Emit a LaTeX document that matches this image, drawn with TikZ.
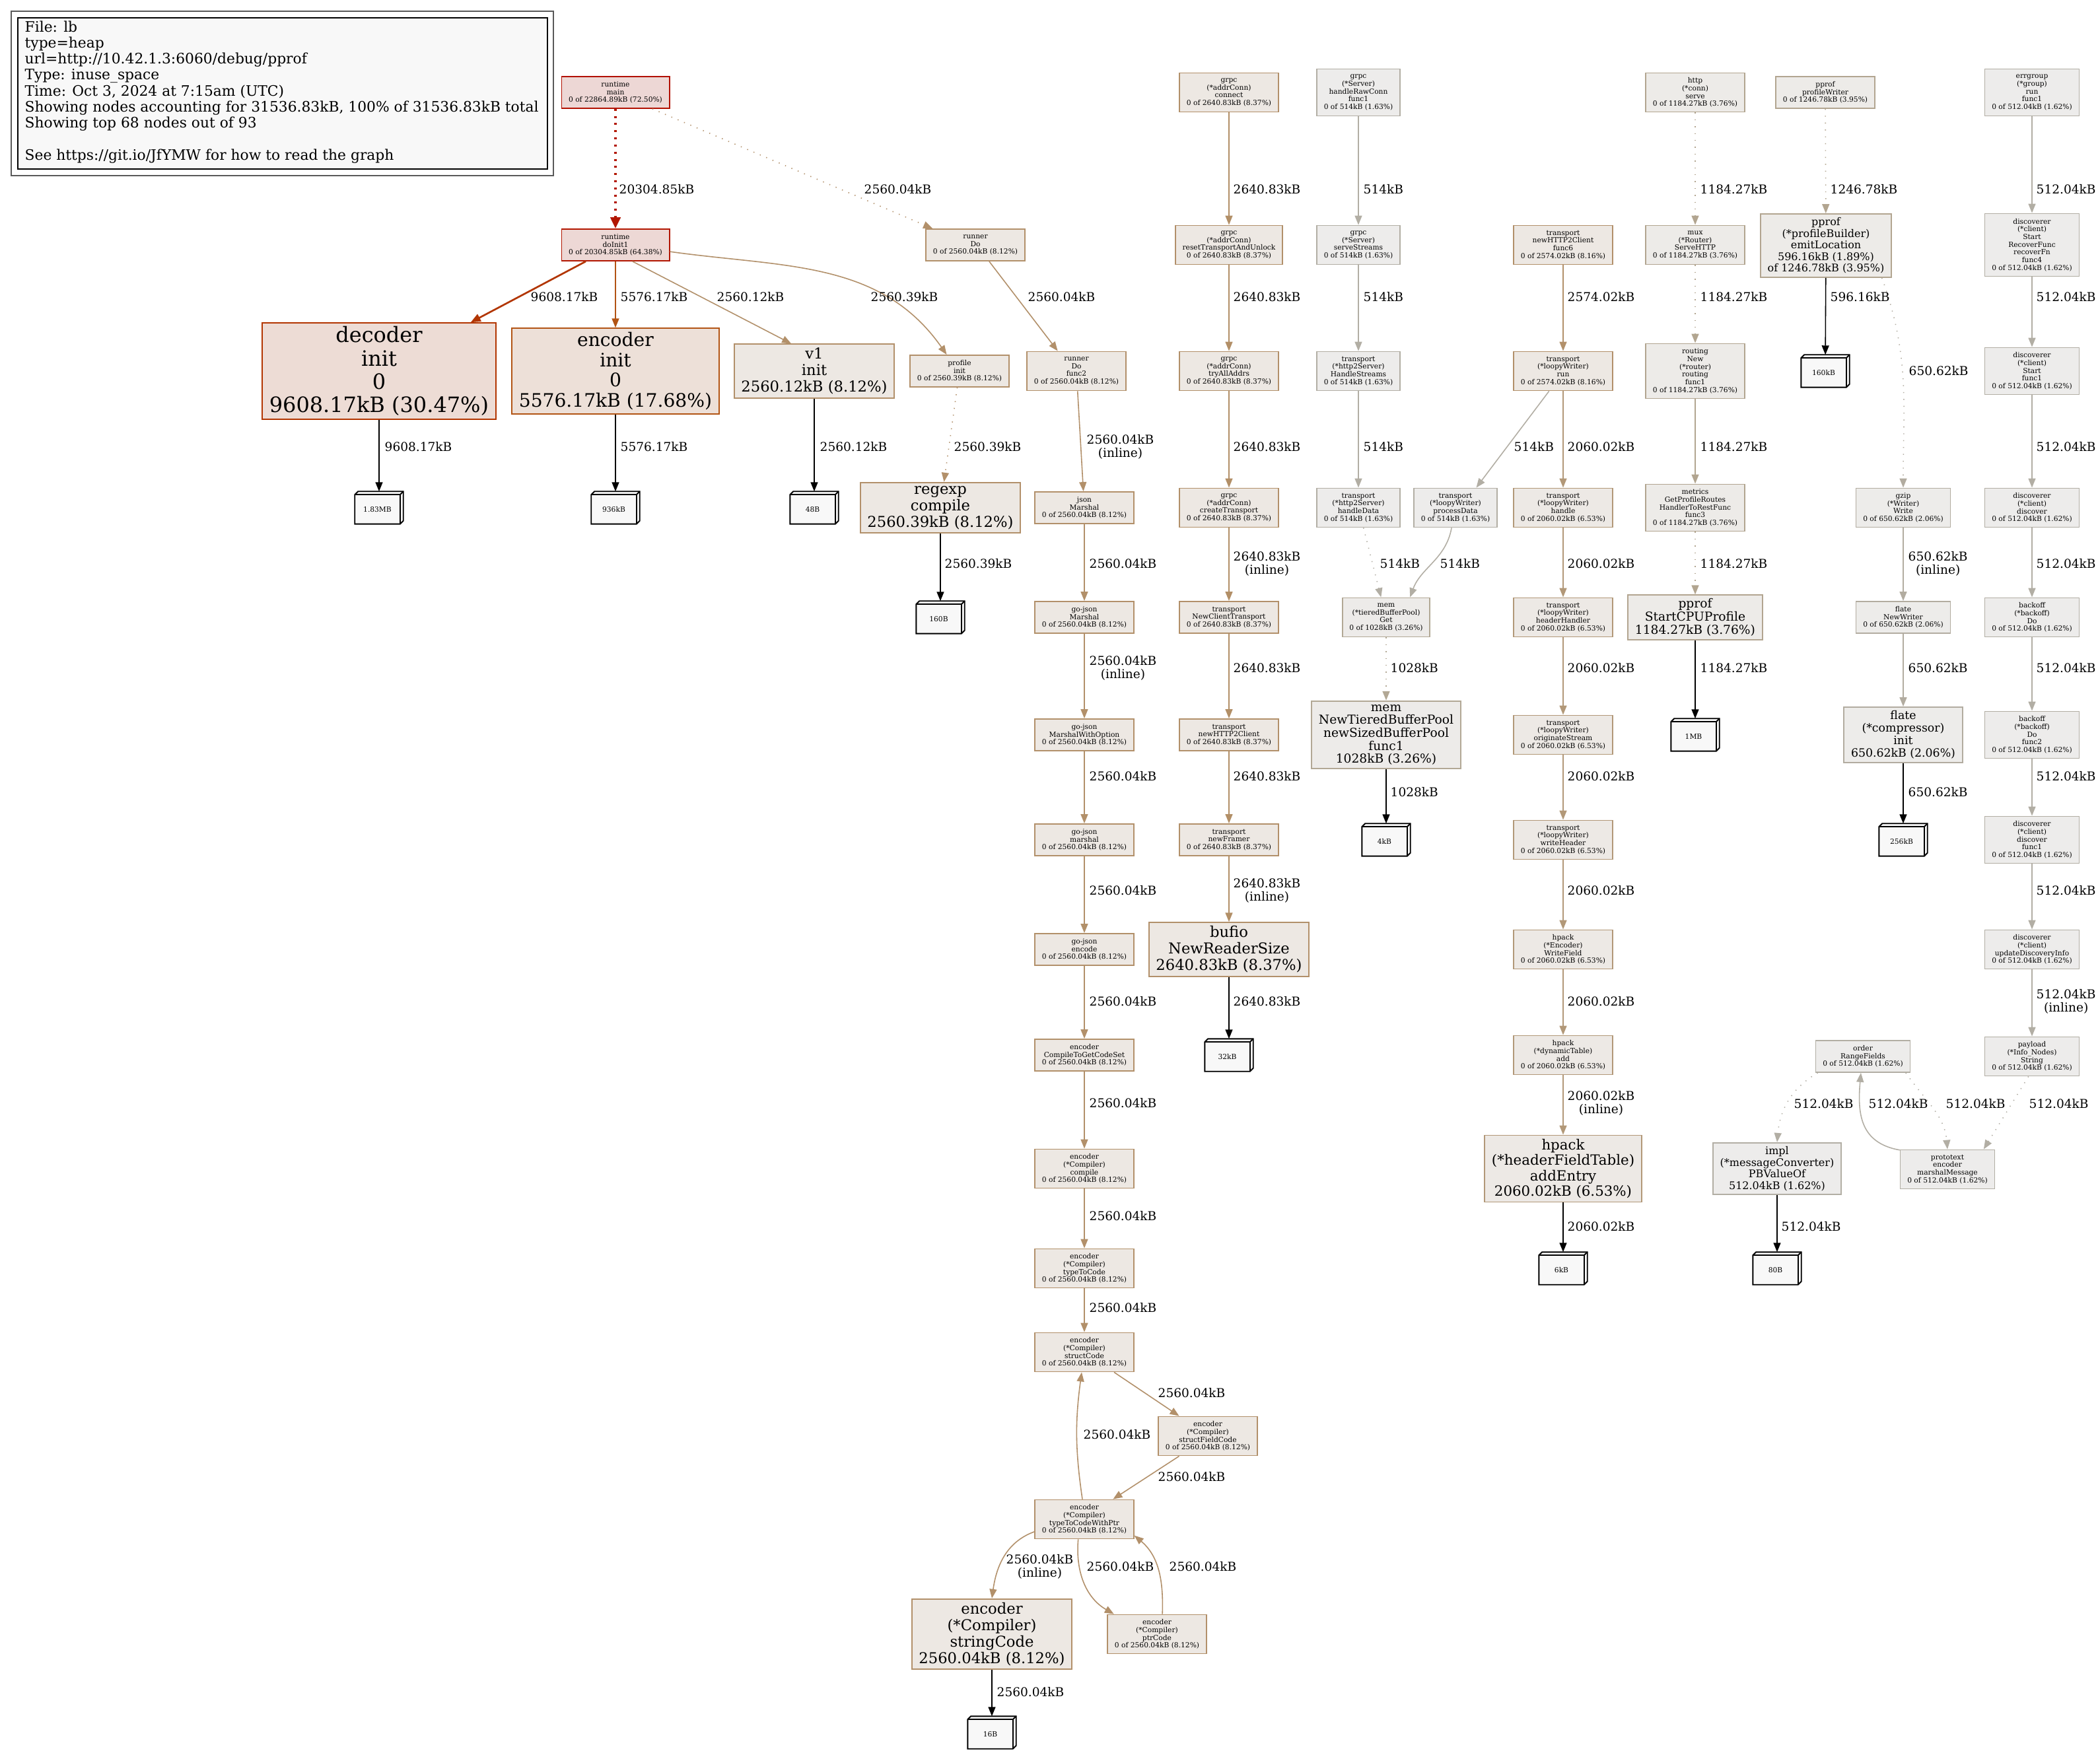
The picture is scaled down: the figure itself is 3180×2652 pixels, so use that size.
\documentclass[tikz,border=0pt]{standalone}
\usepackage{fontspec}
\setmainfont{DejaVu Serif}
\usetikzlibrary{arrows.meta,calc}
\definecolor{fRa}{HTML}{EDD7D5}\definecolor{dRa}{HTML}{B21000}
\definecolor{fRb}{HTML}{EDD8D5}\definecolor{dRb}{HTML}{B21600}
\definecolor{fDe}{HTML}{EDDCD5}\definecolor{dDe}{HTML}{B23500}
\definecolor{fEn}{HTML}{EDE0D8}\definecolor{dEn}{HTML}{B25414}
\definecolor{fT}{HTML}{EDE8E3}\definecolor{dT}{HTML}{B2906A}
\definecolor{dTg}{HTML}{B28F67}
\definecolor{fH}{HTML}{EDE9E5}\definecolor{dH}{HTML}{B29878}
\definecolor{fP}{HTML}{EDEBE8}\definecolor{dP}{HTML}{B2A590}
\definecolor{fM}{HTML}{EDEBE9}\definecolor{dM}{HTML}{B2A895}
\definecolor{fF}{HTML}{EDECEA}\definecolor{dF}{HTML}{B2ACA0}
\definecolor{fG}{HTML}{EDECEB}\definecolor{dG}{HTML}{B2AEA4}
\definecolor{cubef}{HTML}{F8F8F8}
\definecolor{legfill}{HTML}{F8F8F8}
\newcommand\pftiny{\fontsize{3.04pt}{3.33pt}\selectfont}
\newcommand\pflbl{\fontsize{5.28pt}{5.9pt}\selectfont}
\newcommand\pfleg{\fontsize{6.2pt}{6.89pt}\selectfont}
\newcommand\pfA{\fontsize{9.1pt}{10pt}\selectfont}
\newcommand\pfB{\fontsize{8pt}{8.8pt}\selectfont}
\newcommand\pfC{\fontsize{6.45pt}{7.1pt}\selectfont}
\newcommand\pfD{\fontsize{6.07pt}{6.68pt}\selectfont}
\newcommand\pfE{\fontsize{5.31pt}{5.6pt}\selectfont}
\newcommand\pfF{\fontsize{4.93pt}{5.42pt}\selectfont}
\newcommand\pfG{\fontsize{4.55pt}{5.0pt}\selectfont}
\tikzset{
  nd/.style={draw, rectangle, align=center, inner xsep=0.107cm, inner ysep=0.055cm, line width=0.5pt},
  tn/.style={nd, font=\pftiny},
  ln3/.style={minimum height=0.48cm},
  ln4/.style={minimum height=0.59cm},
  ln5/.style={minimum height=0.71cm},
  ln6/.style={minimum height=0.83cm},
  ln7/.style={minimum height=0.95cm},
  sRa/.style={fill=fRa, draw=dRa},
  sRb/.style={fill=fRb, draw=dRb},
  sDe/.style={fill=fDe, draw=dDe},
  sEn/.style={fill=fEn, draw=dEn},
  sT8/.style={fill=fT, draw=dT},
  sH/.style={fill=fH, draw=dH},
  sP/.style={fill=fP, draw=dP},
  sM/.style={fill=fM, draw=dM},
  sF/.style={fill=fF, draw=dF},
  sG/.style={fill=fG, draw=dG},
  cubeb/.style={rectangle, draw=none, minimum width=0.72cm, minimum height=0.48cm, inner sep=0pt},
  cubel/.style={draw=black, line width=0.55pt, line join=miter},
  ar/.style={-{Triangle[length=0.14cm,width=0.11cm]}, line width=0.45pt},
  arb/.style={ar, black},
  dts/.style={dash pattern=on 0.014cm off 0.09cm},
  thickdot/.style={line width=1.4pt, dash pattern=on 0.03cm off 0.078cm},
  lbl/.style={font=\pflbl, anchor=west, inner sep=0pt, align=center},
}
\newcommand\pcube[4]{%
  \node[cubeb] (#1) at (#2,#3) {};
  \filldraw[cubel, fill=cubef] (#1.south west) -- ($(#1.north west)+(0,5)$) -- ($(#1.north west)+(5,0)$) -- (#1.north east) -- ($(#1.south east)+(0,-5)$) -- ($(#1.south east)+(-5,0)$) -- cycle;
  \draw[cubel] ($(#1.north west)+(0,5)$) -- ($(#1.north east)+(-5,5)$) -- ($(#1.south east)+(-5,0)$);
  \draw[cubel] ($(#1.north east)+(-5,5)$) -- (#1.north east);
  \node[font=\pftiny, inner sep=0pt] (#1t) at ($(#1.center)+(-2.5,2.5)$) {#4};
}
\begin{document}
\begin{tikzpicture}[x=0.01cm,y=-0.01cm]
\useasboundingbox (0,0) rectangle (3180,2652);
\fill[white] (0,0) rectangle (3180,2652);

% legend
\node[draw=black!65, line width=0.5pt, fill=white, minimum width=8.21cm, minimum height=2.49cm, anchor=north west, inner sep=0pt] (legout) at (16,16) {};
\node[draw=black, line width=0.5pt, fill=legfill, minimum width=8.02cm, minimum height=2.29cm, anchor=north west, inner sep=0pt] (legin) at (26,26) {};
\node[anchor=north west, inner sep=0pt, align=left, font=\pfleg] (legtxt) at (37,31) {File: lb\\type=heap\\url=http://10.42.1.3:6060/debug/pprof\\Type: inuse\_space\\Time: Oct 3, 2024 at 7:15am (UTC)\\Showing nodes accounting for 31536.83kB, 100\% of 31536.83kB total\\Showing top 68 nodes out of 93\\[6.89pt]See https://git.io/JfYMW for how to read the graph};

% ---- rank 0
\node[tn,ln3,sRa] (main) at (932,140) {runtime\\main\\0 of 22864.89kB (72.50\%)};
\node[tn,ln4,sT8] (gconn) at (1861,140) {grpc\\(*addrConn)\\connect\\0 of 2640.83kB (8.37\%)};
\node[tn,ln5,sG] (hrc) at (2057,140) {grpc\\(*Server)\\handleRawConn\\func1\\0 of 514kB (1.63\%)};
\node[tn,ln4,sP] (hserve) at (2567,140) {http\\(*conn)\\serve\\0 of 1184.27kB (3.76\%)};
\node[tn,ln3,sP] (pwriter) at (2764,140) {pprof\\profileWriter\\0 of 1246.78kB (3.95\%)};
\node[tn,ln5,sG] (egrun) at (3077,140) {errgroup\\(*group)\\run\\func1\\0 of 512.04kB (1.62\%)};

% ---- rank 1
\node[tn,ln3,sRb] (doinit) at (932,371) {runtime\\doInit1\\0 of 20304.85kB (64.38\%)};
\node[tn,ln3,sT8] (runnerdo) at (1477,371) {runner\\Do\\0 of 2560.04kB (8.12\%)};
\node[tn,ln4,sT8] (greset) at (1861,371) {grpc\\(*addrConn)\\resetTransportAndUnlock\\0 of 2640.83kB (8.37\%)};
\node[tn,ln4,sG] (sstreams) at (2057,371) {grpc\\(*Server)\\serveStreams\\0 of 514kB (1.63\%)};
\node[tn,ln4,sT8] (nhcf6) at (2367,371) {transport\\newHTTP2Client\\func6\\0 of 2574.02kB (8.16\%)};
\node[tn,ln4,sP] (mux) at (2567,371) {mux\\(*Router)\\ServeHTTP\\0 of 1184.27kB (3.76\%)};
\node[nd,sP,font=\pfG] (emitloc) at (2765,372) {pprof\\(*profileBuilder)\\emitLocation\\596.16kB (1.89\%)\\of 1246.78kB (3.95\%)};
\node[tn,ln7,sG] (recfn) at (3077,371) {discoverer\\(*client)\\Start\\RecoverFunc\\recoverFn\\func4\\0 of 512.04kB (1.62\%)};

% ---- rank 2
\node[nd,sDe,font=\pfA] (decoder) at (574,562) {decoder\\init\\0\\9608.17kB (30.47\%)};
\node[nd,sEn,font=\pfB] (encinit) at (932,562) {encoder\\init\\0\\5576.17kB (17.68\%)};
\node[nd,sT8,font=\pfC] (v1) at (1233,562) {v1\\init\\2560.12kB (8.12\%)};
\node[tn,ln3,sT8] (profinit) at (1453,562) {profile\\init\\0 of 2560.39kB (8.12\%)};
\node[tn,ln4,sT8] (func2) at (1630,562) {runner\\Do\\func2\\0 of 2560.04kB (8.12\%)};
\node[tn,ln4,sT8] (tryall) at (1861,562) {grpc\\(*addrConn)\\tryAllAddrs\\0 of 2640.83kB (8.37\%)};
\node[tn,ln4,sG] (hstreams) at (2057,562) {transport\\(*http2Server)\\HandleStreams\\0 of 514kB (1.63\%)};
\node[tn,ln4,sT8] (lwrun) at (2367,562) {transport\\(*loopyWriter)\\run\\0 of 2574.02kB (8.16\%)};
\node[tn,ln6,sP] (routing) at (2567,562) {routing\\New\\(*router)\\routing\\func1\\0 of 1184.27kB (3.76\%)};
\pcube{c160k}{2764}{562}{160kB}
\node[tn,ln5,sG] (sfunc1) at (3077,562) {discoverer\\(*client)\\Start\\func1\\0 of 512.04kB (1.62\%)};

% ---- rank 3
\pcube{c183}{574}{769}{1.83MB}
\pcube{c936}{932}{769}{936kB}
\pcube{c48}{1233}{769}{48B}
\node[nd,sT8,font=\pfC] (regexp) at (1424,769) {regexp\\compile\\2560.39kB (8.12\%)};
\node[tn,ln3,sT8] (jsonm) at (1642,769) {json\\Marshal\\0 of 2560.04kB (8.12\%)};
\node[tn,ln4,sT8] (ctrans) at (1861,769) {grpc\\(*addrConn)\\createTransport\\0 of 2640.83kB (8.37\%)};
\node[tn,ln4,sG] (hdata) at (2057,769) {transport\\(*http2Server)\\handleData\\0 of 514kB (1.63\%)};
\node[tn,ln4,sG] (pdata) at (2204,769) {transport\\(*loopyWriter)\\processData\\0 of 514kB (1.63\%)};
\node[tn,ln4,sH] (lwhandle) at (2367,769) {transport\\(*loopyWriter)\\handle\\0 of 2060.02kB (6.53\%)};
\node[tn,ln5,sP] (metrics) at (2567,769) {metrics\\GetProfileRoutes\\HandlerToRestFunc\\func3\\0 of 1184.27kB (3.76\%)};
\node[tn,ln4,sF] (gzip) at (2882,769) {gzip\\(*Writer)\\Write\\0 of 650.62kB (2.06\%)};
\node[tn,ln4,sG] (discover) at (3077,769) {discoverer\\(*client)\\discover\\0 of 512.04kB (1.62\%)};

% ---- rank 4
\pcube{c160B}{1424}{935}{160B}
\node[tn,ln3,sT8] (gojm) at (1642,935) {go-json\\Marshal\\0 of 2560.04kB (8.12\%)};
\node[tn,ln3,sT8] (nct) at (1861,935) {transport\\NewClientTransport\\0 of 2640.83kB (8.37\%)};
\node[tn,ln4,sM] (memget) at (2099,935) {mem\\(*tieredBufferPool)\\Get\\0 of 1028kB (3.26\%)};
\node[tn,ln4,sH] (hhandler) at (2367,935) {transport\\(*loopyWriter)\\headerHandler\\0 of 2060.02kB (6.53\%)};
\node[nd,sP,font=\pfE] (cpu) at (2567,935) {pprof\\StartCPUProfile\\1184.27kB (3.76\%)};
\node[tn,ln3,sF] (flatenw) at (2882,935) {flate\\NewWriter\\0 of 650.62kB (2.06\%)};
\node[tn,ln4,sG] (backoff) at (3077,935) {backoff\\(*backoff)\\Do\\0 of 512.04kB (1.62\%)};

% ---- rank 5
\node[tn,ln3,sT8] (gojmwo) at (1642,1113) {go-json\\MarshalWithOption\\0 of 2560.04kB (8.12\%)};
\node[tn,ln3,sT8] (nh2c) at (1861,1113) {transport\\newHTTP2Client\\0 of 2640.83kB (8.37\%)};
\node[nd,sM,font=\pfE] (memnew) at (2099,1113) {mem\\NewTieredBufferPool\\newSizedBufferPool\\func1\\1028kB (3.26\%)};
\node[tn,ln4,sH] (ostream) at (2367,1113) {transport\\(*loopyWriter)\\originateStream\\0 of 2060.02kB (6.53\%)};
\pcube{c1MB}{2567}{1113}{1MB}
\node[nd,sF,font=\pfF] (flatec) at (2882,1113) {flate\\(*compressor)\\init\\650.62kB (2.06\%)};
\node[tn,ln5,sG] (bfunc2) at (3077,1113) {backoff\\(*backoff)\\Do\\func2\\0 of 512.04kB (1.62\%)};

% ---- rank 6
\node[tn,ln3,sT8] (gojmar) at (1642,1272) {go-json\\marshal\\0 of 2560.04kB (8.12\%)};
\node[tn,ln3,sT8] (framer) at (1861,1272) {transport\\newFramer\\0 of 2640.83kB (8.37\%)};
\pcube{c4kB}{2099}{1272}{4kB}
\node[tn,ln4,sH] (whdr) at (2367,1272) {transport\\(*loopyWriter)\\writeHeader\\0 of 2060.02kB (6.53\%)};
\pcube{c256kB}{2882}{1272}{256kB}
\node[tn,ln5,sG] (dfunc1) at (3077,1272) {discoverer\\(*client)\\discover\\func1\\0 of 512.04kB (1.62\%)};

% ---- rank 7
\node[tn,ln3,sT8] (gojenc) at (1642,1438) {go-json\\encode\\0 of 2560.04kB (8.12\%)};
\node[nd,sT8,font=\pfC] (bufio) at (1861,1438) {bufio\\NewReaderSize\\2640.83kB (8.37\%)};
\node[tn,ln4,sH] (wfield) at (2367,1438) {hpack\\(*Encoder)\\WriteField\\0 of 2060.02kB (6.53\%)};
\node[tn,ln4,sG] (udi) at (3077,1438) {discoverer\\(*client)\\updateDiscoveryInfo\\0 of 512.04kB (1.62\%)};

% ---- rank 8
\node[tn,ln3,sT8] (ctgcs) at (1642,1598) {encoder\\CompileToGetCodeSet\\0 of 2560.04kB (8.12\%)};
\pcube{c32kB}{1861}{1598}{32kB}
\node[tn,ln4,sH] (dtadd) at (2367,1598) {hpack\\(*dynamicTable)\\add\\0 of 2060.02kB (6.53\%)};
\node[tn,ln3,sG] (order) at (2821,1600) {order\\RangeFields\\0 of 512.04kB (1.62\%)};
\node[tn,ln4,sG] (payload) at (3077,1600) {payload\\(*Info\_Nodes)\\String\\0 of 512.04kB (1.62\%)};

% ---- rank 9
\node[tn,ln4,sT8] (ccomp) at (1642,1770) {encoder\\(*Compiler)\\compile\\0 of 2560.04kB (8.12\%)};
\node[nd,sH,font=\pfD] (addentry) at (2367,1770) {hpack\\(*headerFieldTable)\\addEntry\\2060.02kB (6.53\%)};
\node[nd,sG,font=\pfG] (impl) at (2691,1770) {impl\\(*messageConverter)\\PBValueOf\\512.04kB (1.62\%)};
\node[tn,ln4,sG] (prototext) at (2949,1771) {prototext\\encoder\\marshalMessage\\0 of 512.04kB (1.62\%)};

% ---- rank 10+
\node[tn,ln4,sT8] (ttc) at (1642,1921) {encoder\\(*Compiler)\\typeToCode\\0 of 2560.04kB (8.12\%)};
\pcube{c6kB}{2367}{1921}{6kB}
\pcube{c80B}{2691}{1921}{80B}
\node[tn,ln4,sT8] (structc) at (1642,2048) {encoder\\(*Compiler)\\structCode\\0 of 2560.04kB (8.12\%)};
\node[tn,ln4,sT8] (sfc) at (1829,2175) {encoder\\(*Compiler)\\structFieldCode\\0 of 2560.04kB (8.12\%)};
\node[tn,ln4,sT8] (ttcwp) at (1642,2301) {encoder\\(*Compiler)\\typeToCodeWithPtr\\0 of 2560.04kB (8.12\%)};
\node[nd,sT8,font=\pfC] (stringc) at (1502,2475) {encoder\\(*Compiler)\\stringCode\\2560.04kB (8.12\%)};
\node[tn,ln4,sT8] (ptrc) at (1752,2475) {encoder\\(*Compiler)\\ptrCode\\0 of 2560.04kB (8.12\%)};
\pcube{c16B}{1502}{2624}{16B}

% ================= edges
% runtime / runner
\draw[ar,dRb,thickdot,-{Triangle[length=0.17cm,width=0.15cm]}] (main) -- (doinit);
\draw[ar,dT,dts] (main.-24) -- (runnerdo.159);
\draw[ar,dDe,line width=0.76pt,-{Triangle[length=0.15cm,width=0.12cm]}] (doinit.-151) -- (decoder.28);
\draw[ar,dEn] (doinit) -- (encinit);
\draw[ar,dT] (doinit.-44) -- (v1.130);
\draw[ar,dT] (doinit.-7) to[out=-8,in=125] (profinit.128);
\draw[ar,dT] (runnerdo.-50) -- (func2.133);
\draw[ar,dT,dts] (profinit) -- (regexp);
\draw[ar,dT] (func2) -- (jsonm);
\draw[arb] (decoder) -- (c183);
\draw[arb] (encinit) -- (c936);
\draw[arb] (v1) -- (c48);
\draw[arb] (regexp) -- (c160B);
% json / encoder column
\draw[ar,dT] (jsonm) -- (gojm);
\draw[ar,dT] (gojm) -- (gojmwo);
\draw[ar,dT] (gojmwo) -- (gojmar);
\draw[ar,dT] (gojmar) -- (gojenc);
\draw[ar,dT] (gojenc) -- (ctgcs);
\draw[ar,dT] (ctgcs) -- (ccomp);
\draw[ar,dT] (ccomp) -- (ttc);
\draw[ar,dT] (ttc) -- (structc);
\draw[ar,dT] (structc.-34) -- (sfc.145);
\draw[ar,dT] (sfc.-145) -- (ttcwp.35);
\draw[ar,dT] ($(ttcwp.north)+(-3,0)$) to[bend left=8] ($(structc.south)+(-4,0)$);
\draw[ar,dT] (ttcwp.194) to[out=200,in=82] (stringc.north);
\draw[ar,dT] (ttcwp.-107) to[out=-95,in=150] (ptrc.155);
\draw[ar,dT] (ptrc.75) to[out=88,in=-40] (ttcwp.-18);
\draw[arb] (stringc) -- (c16B);
% grpc column
\draw[ar,dTg] (gconn) -- (greset);
\draw[ar,dTg] (greset) -- (tryall);
\draw[ar,dTg] (tryall) -- (ctrans);
\draw[ar,dTg] (ctrans) -- (nct);
\draw[ar,dTg] (nct) -- (nh2c);
\draw[ar,dTg] (nh2c) -- (framer);
\draw[ar,dTg] (framer) -- (bufio);
\draw[arb] (bufio) -- (c32kB);
% server column
\draw[ar,dG] (hrc) -- (sstreams);
\draw[ar,dG] (sstreams) -- (hstreams);
\draw[ar,dG] (hstreams) -- (hdata);
\draw[ar,dG,dts] (hdata) -- (memget);
\draw[ar,dG] (pdata.-101) to[out=-100,in=70] (memget.40);
\draw[ar,dM,dts] (memget) -- (memnew);
\draw[arb] (memnew) -- (c4kB);
% transport column
\draw[ar,dT] (nhcf6) -- (lwrun);
\draw[ar,dG] (lwrun.-125) -- (pdata.44);
\draw[ar,dH] (lwrun) -- (lwhandle);
\draw[ar,dH] (lwhandle) -- (hhandler);
\draw[ar,dH] (hhandler) -- (ostream);
\draw[ar,dH] (ostream) -- (whdr);
\draw[ar,dH] (whdr) -- (wfield);
\draw[ar,dH] (wfield) -- (dtadd);
\draw[ar,dH] (dtadd) -- (addentry);
\draw[arb] (addentry) -- (c6kB);
% http column
\draw[ar,dP,dts] (hserve) -- (mux);
\draw[ar,dP,dts] (mux) -- (routing);
\draw[ar,dP] (routing) -- (metrics);
\draw[ar,dP,dts] (metrics) -- (cpu);
\draw[arb] (cpu) -- (c1MB);
% pprof column
\draw[ar,dP,dts] (pwriter) -- (emitloc);
\draw[arb] (emitloc) -- (c160k);
\draw[ar,dF,dts] (emitloc.-30) to[out=-70,in=90] (gzip.north);
\draw[ar,dF] (gzip) -- (flatenw);
\draw[ar,dF] (flatenw) -- (flatec);
\draw[arb] (flatec) -- (c256kB);
% errgroup column
\draw[ar,dG] (egrun) -- (recfn);
\draw[ar,dG] (recfn) -- (sfunc1);
\draw[ar,dG] (sfunc1) -- (discover);
\draw[ar,dG] (discover) -- (backoff);
\draw[ar,dG] (backoff) -- (bfunc2);
\draw[ar,dG] (bfunc2) -- (dfunc1);
\draw[ar,dG] (dfunc1) -- (udi);
\draw[ar,dG] (udi) -- (payload);
\draw[ar,dG,dts] (payload.-100) -- (prototext.29);
\draw[ar,dG,dts] (order.200) to[out=210,in=85] (impl.north);
\draw[ar,dG] (prototext.158) to[out=170,in=-95,looseness=1.2] (order.-97);
\draw[ar,dG,dts] (order.-21) to[out=-55,in=95] (prototext.north);
\draw[arb] (impl) -- (c80B);

% ================= edge labels
% gap 0
\node[lbl] (q01) at (937,287) {20304.85kB};
\node[lbl] (q02) at (1308,287) {2560.04kB};
\node[lbl] (q03) at (1867,287) {2640.83kB};
\node[lbl] (q04) at (2064,287) {514kB};
\node[lbl] (q05) at (2574,287) {1184.27kB};
\node[lbl] (q06) at (2771,287) {1246.78kB};
\node[lbl] (q07) at (3083,287) {512.04kB};
% gap 1
\node[lbl] (q08) at (803,450) {9608.17kB};
\node[lbl] (q09) at (939,450) {5576.17kB};
\node[lbl] (q10) at (1085,450) {2560.12kB};
\node[lbl] (q11) at (1318,450) {2560.39kB};
\node[lbl] (q12) at (1556,450) {2560.04kB};
\node[lbl] (q13) at (1867,450) {2640.83kB};
\node[lbl] (q14) at (2064,450) {514kB};
\node[lbl] (q15) at (2373,450) {2574.02kB};
\node[lbl] (q16) at (2574,450) {1184.27kB};
\node[lbl] (q17) at (2771,450) {596.16kB};
\node[lbl] (q18) at (3083,450) {512.04kB};
\node[lbl] (q19) at (2890,562) {650.62kB};
% gap 2
\node[lbl] (q20) at (582,677) {9608.17kB};
\node[lbl] (q21) at (939,677) {5576.17kB};
\node[lbl] (q22) at (1241,677) {2560.12kB};
\node[lbl] (q23) at (1444,677) {2560.39kB};
\node[lbl] (q24) at (1645,677) {2560.04kB\\(inline)};
\node[lbl] (q25) at (1867,677) {2640.83kB};
\node[lbl] (q26) at (2064,677) {514kB};
\node[lbl] (q27) at (2292,677) {514kB};
\node[lbl] (q28) at (2373,677) {2060.02kB};
\node[lbl] (q29) at (2574,677) {1184.27kB};
\node[lbl] (q30) at (3083,677) {512.04kB};
% gap 3
\node[lbl] (q31) at (1430,854) {2560.39kB};
\node[lbl] (q32) at (1649,854) {2560.04kB};
\node[lbl] (q33) at (1867,854) {2640.83kB\\(inline)};
\node[lbl] (q34) at (2089,854) {514kB};
\node[lbl] (q35) at (2180,854) {514kB};
\node[lbl] (q36) at (2373,854) {2060.02kB};
\node[lbl] (q37) at (2574,854) {1184.27kB};
\node[lbl] (q38) at (2889,854) {650.62kB\\(inline)};
\node[lbl] (q39) at (3083,854) {512.04kB};
% gap 4
\node[lbl] (q40) at (1649,1012) {2560.04kB\\(inline)};
\node[lbl] (q41) at (1867,1012) {2640.83kB};
\node[lbl] (q42) at (2105,1012) {1028kB};
\node[lbl] (q43) at (2373,1012) {2060.02kB};
\node[lbl] (q44) at (2574,1012) {1184.27kB};
\node[lbl] (q45) at (2889,1012) {650.62kB};
\node[lbl] (q46) at (3083,1012) {512.04kB};
% gap 5
\node[lbl] (q47) at (1649,1176) {2560.04kB};
\node[lbl] (q48) at (1867,1176) {2640.83kB};
\node[lbl] (q49) at (2105,1200) {1028kB};
\node[lbl] (q50) at (2373,1176) {2060.02kB};
\node[lbl] (q51) at (2889,1200) {650.62kB};
\node[lbl] (q52) at (3083,1176) {512.04kB};
% gap 6
\node[lbl] (q53) at (1649,1349) {2560.04kB};
\node[lbl] (q54) at (1867,1349) {2640.83kB\\(inline)};
\node[lbl] (q55) at (2373,1349) {2060.02kB};
\node[lbl] (q56) at (3083,1349) {512.04kB};
% gap 7
\node[lbl] (q57) at (1649,1517) {2560.04kB};
\node[lbl] (q58) at (1867,1517) {2640.83kB};
\node[lbl] (q59) at (2373,1517) {2060.02kB};
\node[lbl] (q60) at (3083,1517) {512.04kB\\(inline)};
% gap 8
\node[lbl] (q61) at (1649,1671) {2560.04kB};
\node[lbl] (q62) at (2373,1671) {2060.02kB\\(inline)};
\node[lbl] (q63) at (2716,1672) {512.04kB};
\node[lbl] (q64) at (2829,1672) {512.04kB};
\node[lbl] (q65) at (2946,1672) {512.04kB};
\node[lbl] (q66) at (3072,1672) {512.04kB};
% gap 9
\node[lbl] (q67) at (1649,1842) {2560.04kB};
\node[lbl] (q68) at (2373,1858) {2060.02kB};
\node[lbl] (q69) at (2697,1858) {512.04kB};
% lower encoder
\node[lbl] (q70) at (1649,1981) {2560.04kB};
\node[lbl] (q71) at (1753,2110) {2560.04kB};
\node[lbl] (q72) at (1640,2173) {2560.04kB};
\node[lbl] (q73) at (1753,2237) {2560.04kB};
\node[lbl] (q74) at (1523,2373) {2560.04kB\\(inline)};
\node[lbl] (q75) at (1645,2373) {2560.04kB};
\node[lbl] (q76) at (1770,2373) {2560.04kB};
\node[lbl] (q77) at (1509,2563) {2560.04kB};
\end{tikzpicture}
\end{document}
